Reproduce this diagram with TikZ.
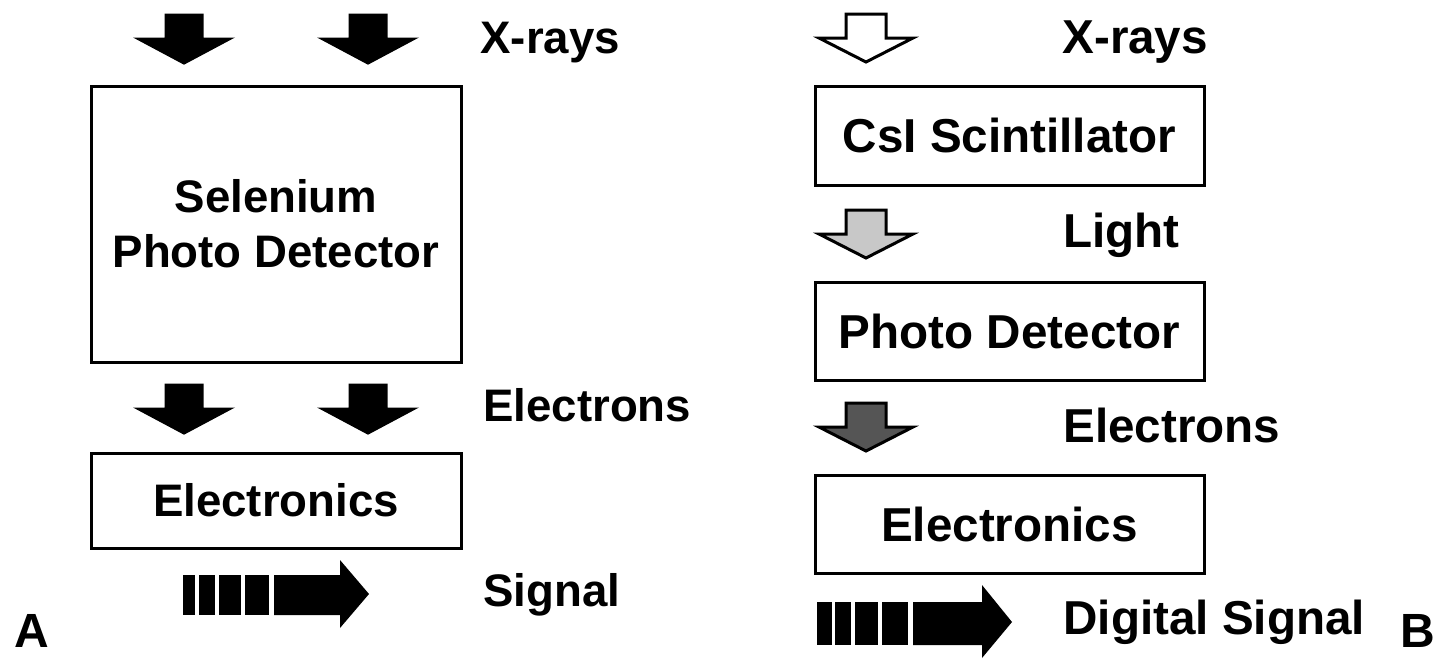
\documentclass[tikz,border=0pt]{standalone}
\usepackage{fontspec}
\setmainfont{Liberation Sans}
\usetikzlibrary{positioning}

\definecolor{lightgray}{RGB}{200,200,200}
\definecolor{darkgray}{RGB}{85,85,85}

\tikzset{
    box/.style={draw, line width=1.5pt, align=center, inner sep=0pt,
        font=\bfseries\fontsize{22.8}{27.5}\selectfont},
    rbox/.style={box, minimum width=194.5pt, minimum height=49pt,
        font=\bfseries\fontsize{23.8}{28}\selectfont},
    lab/.style={anchor=base west, inner sep=0pt,
        font=\bfseries\fontsize{22.8}{27}\selectfont},
    rlab/.style={lab, font=\bfseries\fontsize{23.8}{28}\selectfont},
    panel/.style={anchor=base west, inner sep=0pt,
        font=\bfseries\fontsize{24}{28}\selectfont},
    % block arrow pointing down: shaft half width, head half width
    pics/blockdown/.style 2 args={code={
        \path[pic actions, line width=1.5pt, line join=miter]
            (-#1,0) -- (#1,0) -- (#1,24) -- (#2,24) -- (0,48)
            -- (-#2,24) -- (-#1,24) -- cycle;
    }}
}

\begin{document}
\begin{tikzpicture}[x=0.5pt, y=-0.5pt]
        \useasboundingbox (0,0) rectangle (1441,660);

        % Panel A
        \foreach \x in {184,368}
            \pic[draw, fill=black] at (\x,15) {blockdown={18}{45}};
        \node[box, minimum width=185pt, minimum height=138pt] (selen)
            at (276,224) {Selenium\\Photo Detector};
        \foreach \x in {184,368}
            \pic[draw, fill=black] at (\x,385) {blockdown={18}{45}};
        \node[box, minimum width=185pt, minimum height=47.5pt] (elecA)
            at (276,500.5) {Electronics};
        \foreach \a/\b in {183/195,199/215,219/241,245/269}
            \fill (\a,575) rectangle (\b,615);
        \fill (274,575) -- (340,575) -- (340,560) -- (369,594)
            -- (340,628) -- (340,615) -- (274,615) -- cycle;

        % Labels A
        \node[lab] (xrayA) at (480,53) {X-rays};
        \node[lab] (electronsA) at (483,421) {Electrons};
        \node[lab] (signalA) at (483,606) {Signal};
        \node[panel] (tagA) at (14,647) {A};

        % Panel B
        \pic[draw, fill=white] at (866,14) {blockdown={20}{47}};
        \node[rbox, minimum height=49.5pt] (csi) at (1009.5,135.5) {CsI Scintillator};
        \pic[draw, fill=lightgray] at (866,210) {blockdown={20}{47}};
        \node[rbox] (photo) at (1009.5,331) {Photo Detector};
        \pic[draw, fill=darkgray] at (866,403) {blockdown={20}{47}};
        \node[rbox] (elecB) at (1009.5,524) {Electronics};
        \foreach \a/\b in {817/832,835/851,855/878,882/908}
            \fill (\a,602) rectangle (\b,645);
        \fill (913,602) -- (982,602) -- (982,585) -- (1012,622)
            -- (982,658) -- (982,645) -- (913,645) -- cycle;

        % Labels B
        \node[rlab] (xrayB) at (1062,53) {X-rays};
        \node[rlab] (light) at (1063,247) {Light};
        \node[rlab] (electronsB) at (1063,442) {Electrons};
        \node[rlab] (digital) at (1063,634) {Digital Signal};
        \node[panel] (tagB) at (1400,647) {B};
    \end{tikzpicture}
\end{document}
